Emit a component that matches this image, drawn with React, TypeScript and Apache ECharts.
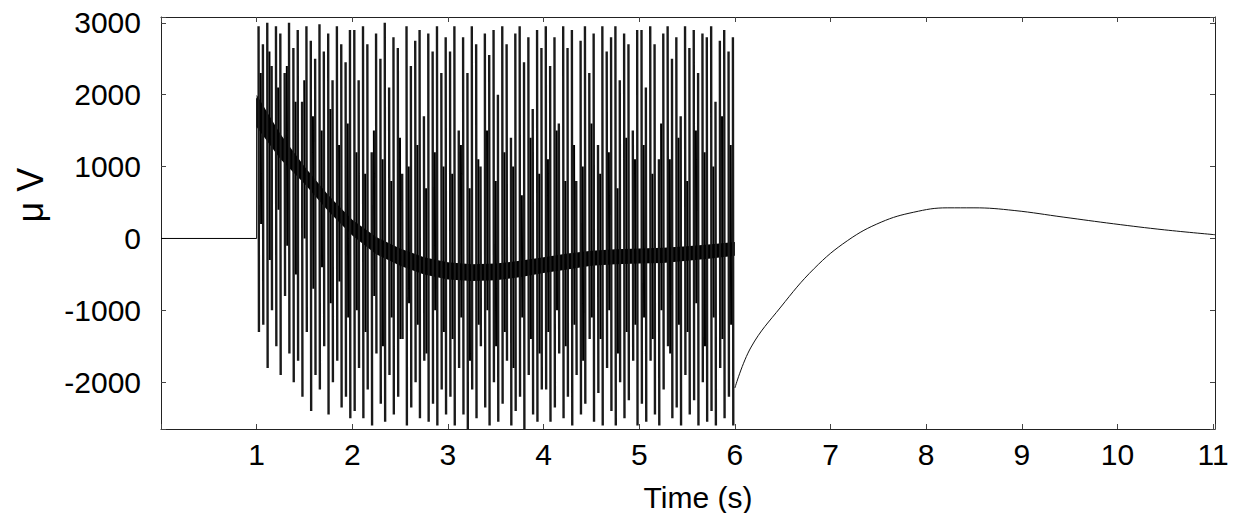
import React, { useEffect, useRef } from "react";
import * as echarts from "echarts";

// Baseline before stimulation (time s, µV)
const preT = [0, 1, 1];
const preV = [0, 0, 1950];

// Stimulation train: each large artefact swings from a peak to a trough
const trainStart = 1.02;
const trainStep = 0.0455;
const peakV = [
  2950, 2700, 3000, 2400, 2950, 2850, 2300, 3000, 2650, 2900, 1900, 2950, 2750, 2500, 2980, 2600, 2850, 2200, 2950, 2700, 2450, 2900,
  2900, 2200, 2950, 2700, 1200, 2850, 2500, 3000, 2100, 2800, 2650, 900, 2950, 2400, 2750, 2900, 1700, 2850, 2600, 2950, 2300, 2800,
  2600, 2950, 1500, 2800, 2300, 2950, 2700, 1000, 2850, 2550, 2900, 2000, 2950, 2700, 1400, 2850, 2950, 2450, 2800, 1800, 2900, 2650,
  2950, 2400, 2800, 1600, 2950, 2650, 2900, 800, 2750, 2950, 2300, 2850, 1300, 2950, 2600, 2800, 2950, 2200, 2850, 2700, 1500, 2900,
  2900, 2100, 2950, 2700, 1100, 2850, 2950, 2500, 2800, 1700, 2950, 2650, 2900, 2300, 2850, 2800, 2950, 1900, 2750, 2900, 2600, 2800,
];
const troughV = [
  -1300, -1200, -1800, -1000, -1500, -1900, -800, -1600, -2000, -1700, -2200, -1300, -2400, -1900, -2100, -1500, -2450, -2000, -1700, -2350, -2200, -2500,
  -2400, -1800, -2500, -2100, -2600, -1600, -2300, -2550, -1900, -2450, -2200, -1400, -2600, -2350, -2000, -2500, -1700, -2550, -2300, -2600, -2100, -2450,
  -2200, -2600, -1800, -2450, -2650, -2100, -2500, -1500, -2350, -2600, -2000, -2550, -2300, -1700, -2600, -2400, -2200, -2650, -1900, -2450, -2550, -2100,
  -2100, -2550, -2350, -1600, -2500, -2200, -2600, -1900, -2450, -2300, -1400, -2550, -2150, -2600, -1800, -2400, -2600, -2000, -2500, -2250, -1700, -2600,
  -2300, -2550, -1700, -2450, -2600, -2100, -1500, -2500, -2350, -2600, -1900, -2450, -2250, -2600, -2000, -2550, -2400, -2600, -1800, -2500, -2200, -2600,
];

// Smaller swings in between the large ones
const shortStart = 1.0427;
const shortStep = 0.091;
const shortPeakV = [
  2300, 2600, 2100, 2400, 1900, 2200, 1700, 1500, 1800, 1300, 1600,
  1200, 900, 1500, 1100, 800, 1400, 1000, 1300, 700, 1200, 1000,
  900, 1300, 700, 1100, 1500, 800, 1200, 1000, 600, 1400, 900,
  1100, 1500, 800, 1300, 1000, 1600, 900, 1200, 700, 1400, 1100,
  1300, 900, 1600, 1100, 1400, 800, 1500, 1200, 1000, 1700, 1300,
];
const shortTroughV = [
  200, -300, 400, -100, -500, 0, -700, -400, -900, -600, -1100,
  -1000, -1300, -800, -1500, -1100, -1400, -900, -1200, -1600, -1000, -1300,
  -1400, -1100, -1700, -1200, -1000, -1500, -1300, -1800, -1100, -1400, -1600,
  -1300, -1000, -1500, -1200, -1700, -1100, -1400, -1000, -1600, -1300, -1200,
  -1100, -1400, -1000, -1600, -1200, -1300, -900, -1500, -1100, -1400, -1200,
];

// Dense band around the slow trend during stimulation
const bandT = [1, 1.25, 1.5, 1.75, 2, 2.25, 2.5, 2.75, 3, 3.25, 3.5, 3.75, 4, 4.25, 4.5, 4.75, 5, 5.25, 5.5, 5.75, 6];
const bandHi = [2000, 1450, 1000, 600, 260, 20, -140, -260, -330, -360, -350, -310, -260, -210, -170, -150, -140, -130, -110, -80, -50];
const bandLo = [1550, 1100, 760, 380, 40, -220, -380, -500, -570, -590, -580, -540, -480, -430, -380, -360, -350, -340, -310, -280, -240];

// Recovery after stimulation
const recT = [6.0, 6.17, 6.48, 6.83, 7.18, 7.53, 7.87, 8.22, 8.5, 8.92, 9.44, 9.96, 10.49, 11.02];
const recV = [-2080, -1510, -954, -417, -28, 227, 365, 426, 426, 389, 296, 204, 120, 52];

const xTicks = [1, 2, 3, 4, 5, 6, 7, 8, 9, 10, 11];
const yTicks = [-2000, -1000, 0, 1000, 2000, 3000];

const FONT = "'Liberation Sans', Arial, Helvetica, sans-serif";

export default function App() {
  const ref = useRef<HTMLDivElement>(null);

  useEffect(() => {
    if (!ref.current) return;
    const chart = echarts.init(ref.current, undefined, { renderer: "svg" });

    const pre = preT.map((t, i) => [t, preV[i]]);

    const spikes: any[] = [];
    peakV.forEach((p, k) => {
      const t = trainStart + k * trainStep;
      spikes.push([t, p]);
      spikes.push([t + 0.004, troughV[k]]);
      spikes.push([t + 0.004, "-"]);
    });

    const shorts: any[] = [];
    shortPeakV.forEach((p, k) => {
      const t = shortStart + k * shortStep;
      shorts.push([t, p]);
      shorts.push([t + 0.004, shortTroughV[k]]);
      shorts.push([t + 0.004, "-"]);
    });

    const recovery = recT.map((t, i) => [t, recV[i]]);

    const axisLine = { show: true, onZero: false, lineStyle: { color: "#222", width: 1 } };
    const tick = { show: true, inside: true, length: 5, lineStyle: { color: "#444", width: 1 } };

    chart.setOption({
      animation: false,
      backgroundColor: "#fff",
      grid: { left: 161, right: 22, top: 17, bottom: 84, containLabel: false },
      xAxis: [
        {
          type: "value",
          min: 0,
          max: 11.02,
          interval: 1,
          position: "bottom",
          axisLine,
          axisTick: tick,
          splitLine: { show: false },
          axisLabel: {
            margin: 10,
            fontSize: 30,
            color: "#000",
            fontFamily: FONT,
            formatter: (v: number) => (xTicks.includes(v) ? String(v) : ""),
          },
        },
        {
          type: "value",
          min: 0,
          max: 11.02,
          interval: 1,
          position: "top",
          axisLine,
          axisTick: tick,
          splitLine: { show: false },
          axisLabel: { show: false },
        },
      ],
      yAxis: [
        {
          type: "value",
          min: -2650,
          max: 3080,
          splitNumber: 5,
          position: "left",
          axisLine,
          axisTick: tick,
          splitLine: { show: false },
          axisLabel: {
            margin: 20,
            fontSize: 30,
            color: "#000",
            fontFamily: FONT,
            formatter: (v: number) => (yTicks.includes(v) ? String(v) : ""),
          },
        },
        {
          type: "value",
          min: -2650,
          max: 3080,
          splitNumber: 5,
          position: "right",
          axisLine,
          axisTick: tick,
          splitLine: { show: false },
          axisLabel: { show: false },
        },
      ],
      graphic: [
        {
          type: "text",
          x: 698,
          y: 497,
          style: {
            text: "Time (s)",
            fontSize: 30,
            fontFamily: FONT,
            fill: "#000",
            textAlign: "center",
            textVerticalAlign: "middle",
          },
        },
        {
          type: "text",
          x: 30,
          y: 195,
          rotation: Math.PI / 2,
          style: {
            text: "μ V",
            fontSize: 36,
            fontFamily: FONT,
            fill: "#000",
            textAlign: "center",
            textVerticalAlign: "middle",
          },
        },
      ],
      series: [
        {
          type: "custom",
          name: "band",
          silent: true,
          data: [[bandT[0], bandHi[0]]],
          renderItem: (params: any, api: any) => {
            const pts: number[][] = [];
            for (let i = 0; i < bandT.length; i++) pts.push(api.coord([bandT[i], bandHi[i]]));
            for (let i = bandT.length - 1; i >= 0; i--) pts.push(api.coord([bandT[i], bandLo[i]]));
            return { type: "polygon", shape: { points: pts }, style: { fill: "#000" } };
          },
          z: 1,
        },
        {
          type: "line",
          name: "baseline",
          data: pre,
          showSymbol: false,
          lineStyle: { color: "#000", width: 1 },
          z: 2,
        },
        {
          type: "line",
          name: "signal",
          data: spikes,
          showSymbol: false,
          connectNulls: false,
          lineStyle: { color: "#1a1a1a", width: 2.4 },
          z: 2,
        },
        {
          type: "line",
          name: "signal-small",
          data: shorts,
          showSymbol: false,
          connectNulls: false,
          lineStyle: { color: "#000", width: 2 },
          z: 2,
        },
        {
          type: "line",
          name: "recovery",
          data: recovery,
          showSymbol: false,
          smooth: 0.4,
          lineStyle: { color: "#111", width: 1 },
          z: 2,
        },
      ],
    });

    return () => chart.dispose();
  }, []);

  return (
    <div
      ref={ref}
      style={{ position: "fixed", left: 0, top: 0, width: 1237, height: 513, background: "#fff" }}
    />
  );
}
